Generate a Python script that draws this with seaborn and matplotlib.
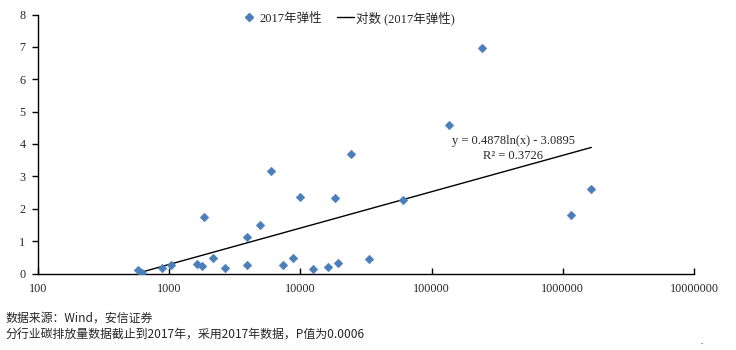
import numpy as np
import pandas as pd
import matplotlib
matplotlib.use("Agg")
import matplotlib.pyplot as plt
from matplotlib.lines import Line2D
from matplotlib.ticker import FixedLocator, FixedFormatter, NullLocator
import seaborn as sns

# ---- data ----
emissions = [580, 620, 877, 1032, 1637, 1786, 1852, 2170, 2680, 3917, 3917,
             4945, 5998, 7368, 8790, 9980, 12550, 16320, 18450, 19450, 24450,
             33500, 60500, 136500, 241000, 1150000, 1650000]
elasticity = [0.10, 0.02, 0.18, 0.27, 0.30, 0.24, 1.76, 0.49, 0.18, 1.13, 0.27,
              1.51, 3.18, 0.27, 0.49, 2.35, 0.15, 0.21, 2.32, 0.33, 3.68,
              0.46, 2.28, 4.58, 6.96, 1.82, 2.60]
fit_slope = 0.4878
fit_intercept = -3.0895
r_squared = 0.3726
x_ticks = [100, 1000, 10000, 100000, 1000000, 10000000]
x_tick_labels = ["100", "1000", "10000", "100000", "1000000", "10000000"]
y_ticks = [0, 1, 2, 3, 4, 5, 6, 7, 8]
series_name = "2017年弹性"
trend_name = "对数 (2017年弹性)"
notes = ["数据来源：Wind，安信证券",
         "分行业碳排放量数据截止到2017年，采用2017年数据，P值为0.0006"]

df = pd.DataFrame({"x": emissions, "y": elasticity})

sns.set_theme(style="white")
serif = ["Liberation Serif", "Noto Sans CJK SC", "DejaVu Sans"]
cjk = ["Noto Sans CJK SC", "DejaVu Sans"]
plt.rcParams["font.family"] = serif

fig = plt.figure(figsize=(7.36, 3.5), dpi=100)
ax = fig.add_axes([38 / 736, 1 - 273.5 / 350, (694 - 38) / 736, (273.5 - 14.5) / 350])

blue = "#4A7EBB"
sns.scatterplot(data=df, x="x", y="y", marker="D", s=20, color=blue,
                edgecolor=blue, linewidth=0.3, ax=ax, legend=False, zorder=3)

xs = np.geomspace(min(emissions), max(emissions), 200)
ax.plot(xs, fit_slope * np.log(xs) + fit_intercept, color="black", lw=1.0, zorder=2)

ax.set_xscale("log")
ax.set_xlim(100, 10000000)
ax.set_ylim(0, 8)
ax.xaxis.set_major_locator(FixedLocator(x_ticks))
ax.xaxis.set_major_formatter(FixedFormatter(x_tick_labels))
ax.xaxis.set_minor_locator(NullLocator())
ax.set_yticks(y_ticks)
ax.set_xlabel("")
ax.set_ylabel("")

for s in ["top", "right"]:
    ax.spines[s].set_visible(False)
for s in ["left", "bottom"]:
    ax.spines[s].set_color("black")
    ax.spines[s].set_linewidth(1.0)
ax.tick_params(axis="x", direction="in", length=4, width=1, color="black",
               labelsize=8.7, pad=7, bottom=True)
ax.tick_params(axis="y", direction="out", length=4, width=1, color="black",
               labelsize=8.7, pad=5, left=True)
for lab in ax.get_xticklabels() + ax.get_yticklabels():
    lab.set_fontfamily(serif)
ax.grid(False)

ax.text(513 / 736, 1 - 141 / 350, f"y = {fit_slope}ln(x) - {abs(fit_intercept)}",
        transform=fig.transFigure, ha="center", va="center", fontsize=9, family=serif)
ax.text(513 / 736, 1 - 156 / 350, f"R² = {r_squared}",
        transform=fig.transFigure, ha="center", va="center", fontsize=9, family=serif)

handles = [Line2D([], [], marker="D", color=blue, linestyle="none", markersize=4),
           Line2D([], [], color="black", lw=1.0)]
fig.legend(handles, [series_name, trend_name], loc="center",
           bbox_to_anchor=(348 / 736, 1 - 18 / 350), ncol=2, frameon=False,
           prop={"family": serif, "size": 9}, handlelength=1.3, handletextpad=0.2,
           columnspacing=1.2)

fig.text(5 / 736, 1 - 318 / 350, notes[0], fontsize=8.6, family=cjk, va="center", ha="left")
fig.text(5 / 736, 1 - 335 / 350, notes[1], fontsize=8.6, family=cjk, va="center", ha="left")
fig.text(702 / 736, 1 - 344 / 350, "-", fontsize=5, family=cjk, va="center", ha="center")

fig.savefig("out.png", dpi=100)
